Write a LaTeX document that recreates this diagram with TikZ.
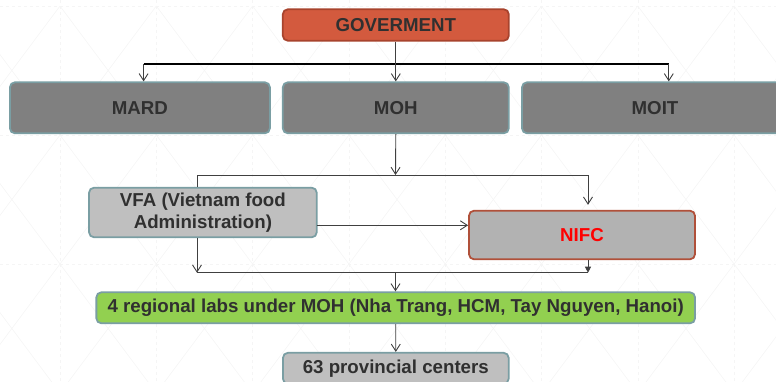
\documentclass[tikz,border=0pt]{standalone}
\usepackage{fontspec}
\setmainfont{Liberation Sans}
\usetikzlibrary{arrows.meta}
\definecolor{txt}{HTML}{303030}
\definecolor{tealb}{HTML}{7A9EA3}
\definecolor{govf}{HTML}{D35A3E}
\definecolor{govb}{HTML}{A8432D}
\definecolor{nifcb}{HTML}{B0503A}
\definecolor{greenf}{HTML}{92D050}
\definecolor{conn}{HTML}{404040}
\tikzset{
  box/.style={draw=tealb, line width=1.8pt, rounded corners=5pt, inner sep=0pt,
    font=\fontsize{18.7}{21.7}\selectfont\bfseries, text=txt, align=center},
  link/.style={draw=conn, line width=0.9pt},
  arr/.style={link, -{Straight Barb[length=7pt,width=9pt,line width=0.9pt]}},
  farr/.style={link, -{Triangle[length=6pt,width=6pt]}},
  bg/.style={draw=black!4, line width=0.6pt}
}
\begin{document}
\begin{tikzpicture}[x=1pt,y=-1pt]
\useasboundingbox (0,0) rectangle (776,381);
\clip (0,0) rectangle (776,381);
% faint background pattern
\foreach \k in {0,...,8}{
  \pgfmathsetmacro{\xa}{60+96.3*(\k-1)}
  \pgfmathsetmacro{\xb}{60+96.3*\k}
  \draw[bg, dashed] (\xb,0) -- (\xb,381);
  \foreach \j in {0,1,2}{
    \pgfmathsetmacro{\ya}{6+129*\j}
    \pgfmathsetmacro{\yb}{6+129*(\j+1)}
    \draw[bg] (\xa,\ya) -- (\xb,\yb);
    \draw[bg] (\xb,\ya) -- (\xa,\yb);
  }
}
\draw[bg, dashed] (0,6) -- (776,6);
\draw[bg, dashed] (0,135) -- (776,135);
\draw[bg, dashed] (0,264) -- (776,264);

% nodes
\node[box, draw=govb, fill=govf, minimum width=226pt, minimum height=31.4pt] (gov) at (395.8,25) {GOVERMENT};
\node[box, fill=black!50, minimum width=260pt, minimum height=51pt] (mard) at (139.9,107.8) {MARD};
\node[box, fill=black!50, minimum width=226pt, minimum height=51pt] (moh) at (395.8,107.8) {MOH};
\node[box, fill=black!50, minimum width=266pt, minimum height=51pt] (moit) at (655,107.8) {MOIT};
\node[box, fill=black!25, minimum width=227.7pt, minimum height=49.6pt] (vfa) at (202.9,212.5) {VFA (Vietnam food\\Administration)};
\node[box, draw=nifcb, fill=black!30, text=red, minimum width=226pt, minimum height=48.6pt] (nifc) at (582,235) {NIFC};
\node[box, fill=greenf, minimum width=598.7pt, minimum height=31pt] (labs) at (395.7,307.8) {4 regional labs under MOH (Nha Trang, HCM, Tay Nguyen, Hanoi)};
\node[box, fill=black!25, minimum width=225.7pt, minimum height=31pt] (prov) at (395.8,368.3) {63 provincial centers};

% connectors top
\coordinate (hl) at (143.6,64.3);
\coordinate (hr) at (668.8,64.3);
\draw[link, draw=black, line width=2.2pt] (hl) -- (hr);
\draw[arr] (gov.south) -- (moh.north);
\draw[arr] (hl) -- (hl |- mard.north);
\draw[arr] (hr) -- (hr |- moit.north);

% MOH to VFA / NIFC
\coordinate (m1) at (395.5,175);
\coordinate (m1l) at (197,175);
\coordinate (m1r) at (588,175);
\draw[arr] (moh.south) -- (m1);
\draw[link] (m1l) -- (m1r);
\draw[link] (m1l) -- (m1l |- vfa.north);
\draw[arr, shorten >=5pt] (m1r) -- (m1r |- nifc.north);

% VFA to NIFC
\coordinate (va) at (316.7,225.3);
\draw[arr] (va) -- (va -| nifc.west);

% lower bus
\coordinate (b1l) at (197,272.7);
\coordinate (b1r) at (588,272.7);
\coordinate (b1m) at (395.5,272.7);
\draw[arr] (b1l |- vfa.south) -- (b1l);
\draw[farr] (b1r |- nifc.south) -- (b1r);
\draw[link] (b1l) -- (b1r);
\draw[arr] (b1m) -- (b1m |- labs.north);
\draw[arr] (labs.south) -- (prov.north);
\end{tikzpicture}
\end{document}
